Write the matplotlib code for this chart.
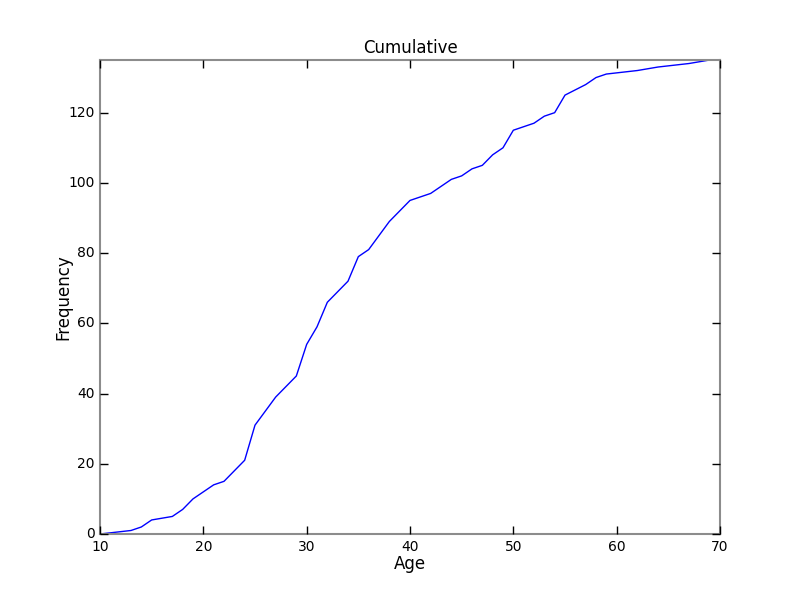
import matplotlib
matplotlib.use("Agg")
import matplotlib.pyplot as plt

# cumulative counts
ages = [10, 13, 14, 15, 17, 18, 19, 21, 22, 24, 25, 27, 29, 30, 31, 32, 34, 35,
        36, 38, 40, 42, 44, 45, 46, 47, 48, 49, 50, 52, 53, 54, 55, 57, 58, 59,
        62, 64, 67, 69]
cumulative = [0, 1, 2, 4, 5, 7, 10, 14, 15, 21, 31, 39, 45, 54, 59, 66, 72, 79,
              81, 89, 95, 97, 101, 102, 104, 105, 108, 110, 115, 117, 119, 120, 125, 128, 130, 131,
              132, 133, 134, 135]

plt.style.use("classic")
plt.rcParams["font.family"] = "DejaVu Sans"

fig = plt.figure(figsize=(8, 6), dpi=100, facecolor="white")
ax = fig.add_subplot(111)
fig.subplots_adjust(left=0.125, right=0.9, bottom=0.11, top=0.9)

ax.plot(ages, cumulative, color="blue", linewidth=1)

ax.set_xlim(10, 70)
ax.set_ylim(0, 135)
ax.set_xticks(range(10, 71, 10))
ax.set_yticks(range(0, 121, 20))

for sp in ax.spines.values():
    sp.set_color("#8c8c8c")
    sp.set_linewidth(1.5)
ax.tick_params(direction="in", length=6, width=1, labelsize=10, colors="black")

ax.set_title("Cumulative", fontsize=12)
ax.set_xlabel("Age", fontsize=12, labelpad=1)
ax.set_ylabel("Frequency", fontsize=12, labelpad=-3)

fig.savefig("out.png", dpi=100, facecolor="white")
